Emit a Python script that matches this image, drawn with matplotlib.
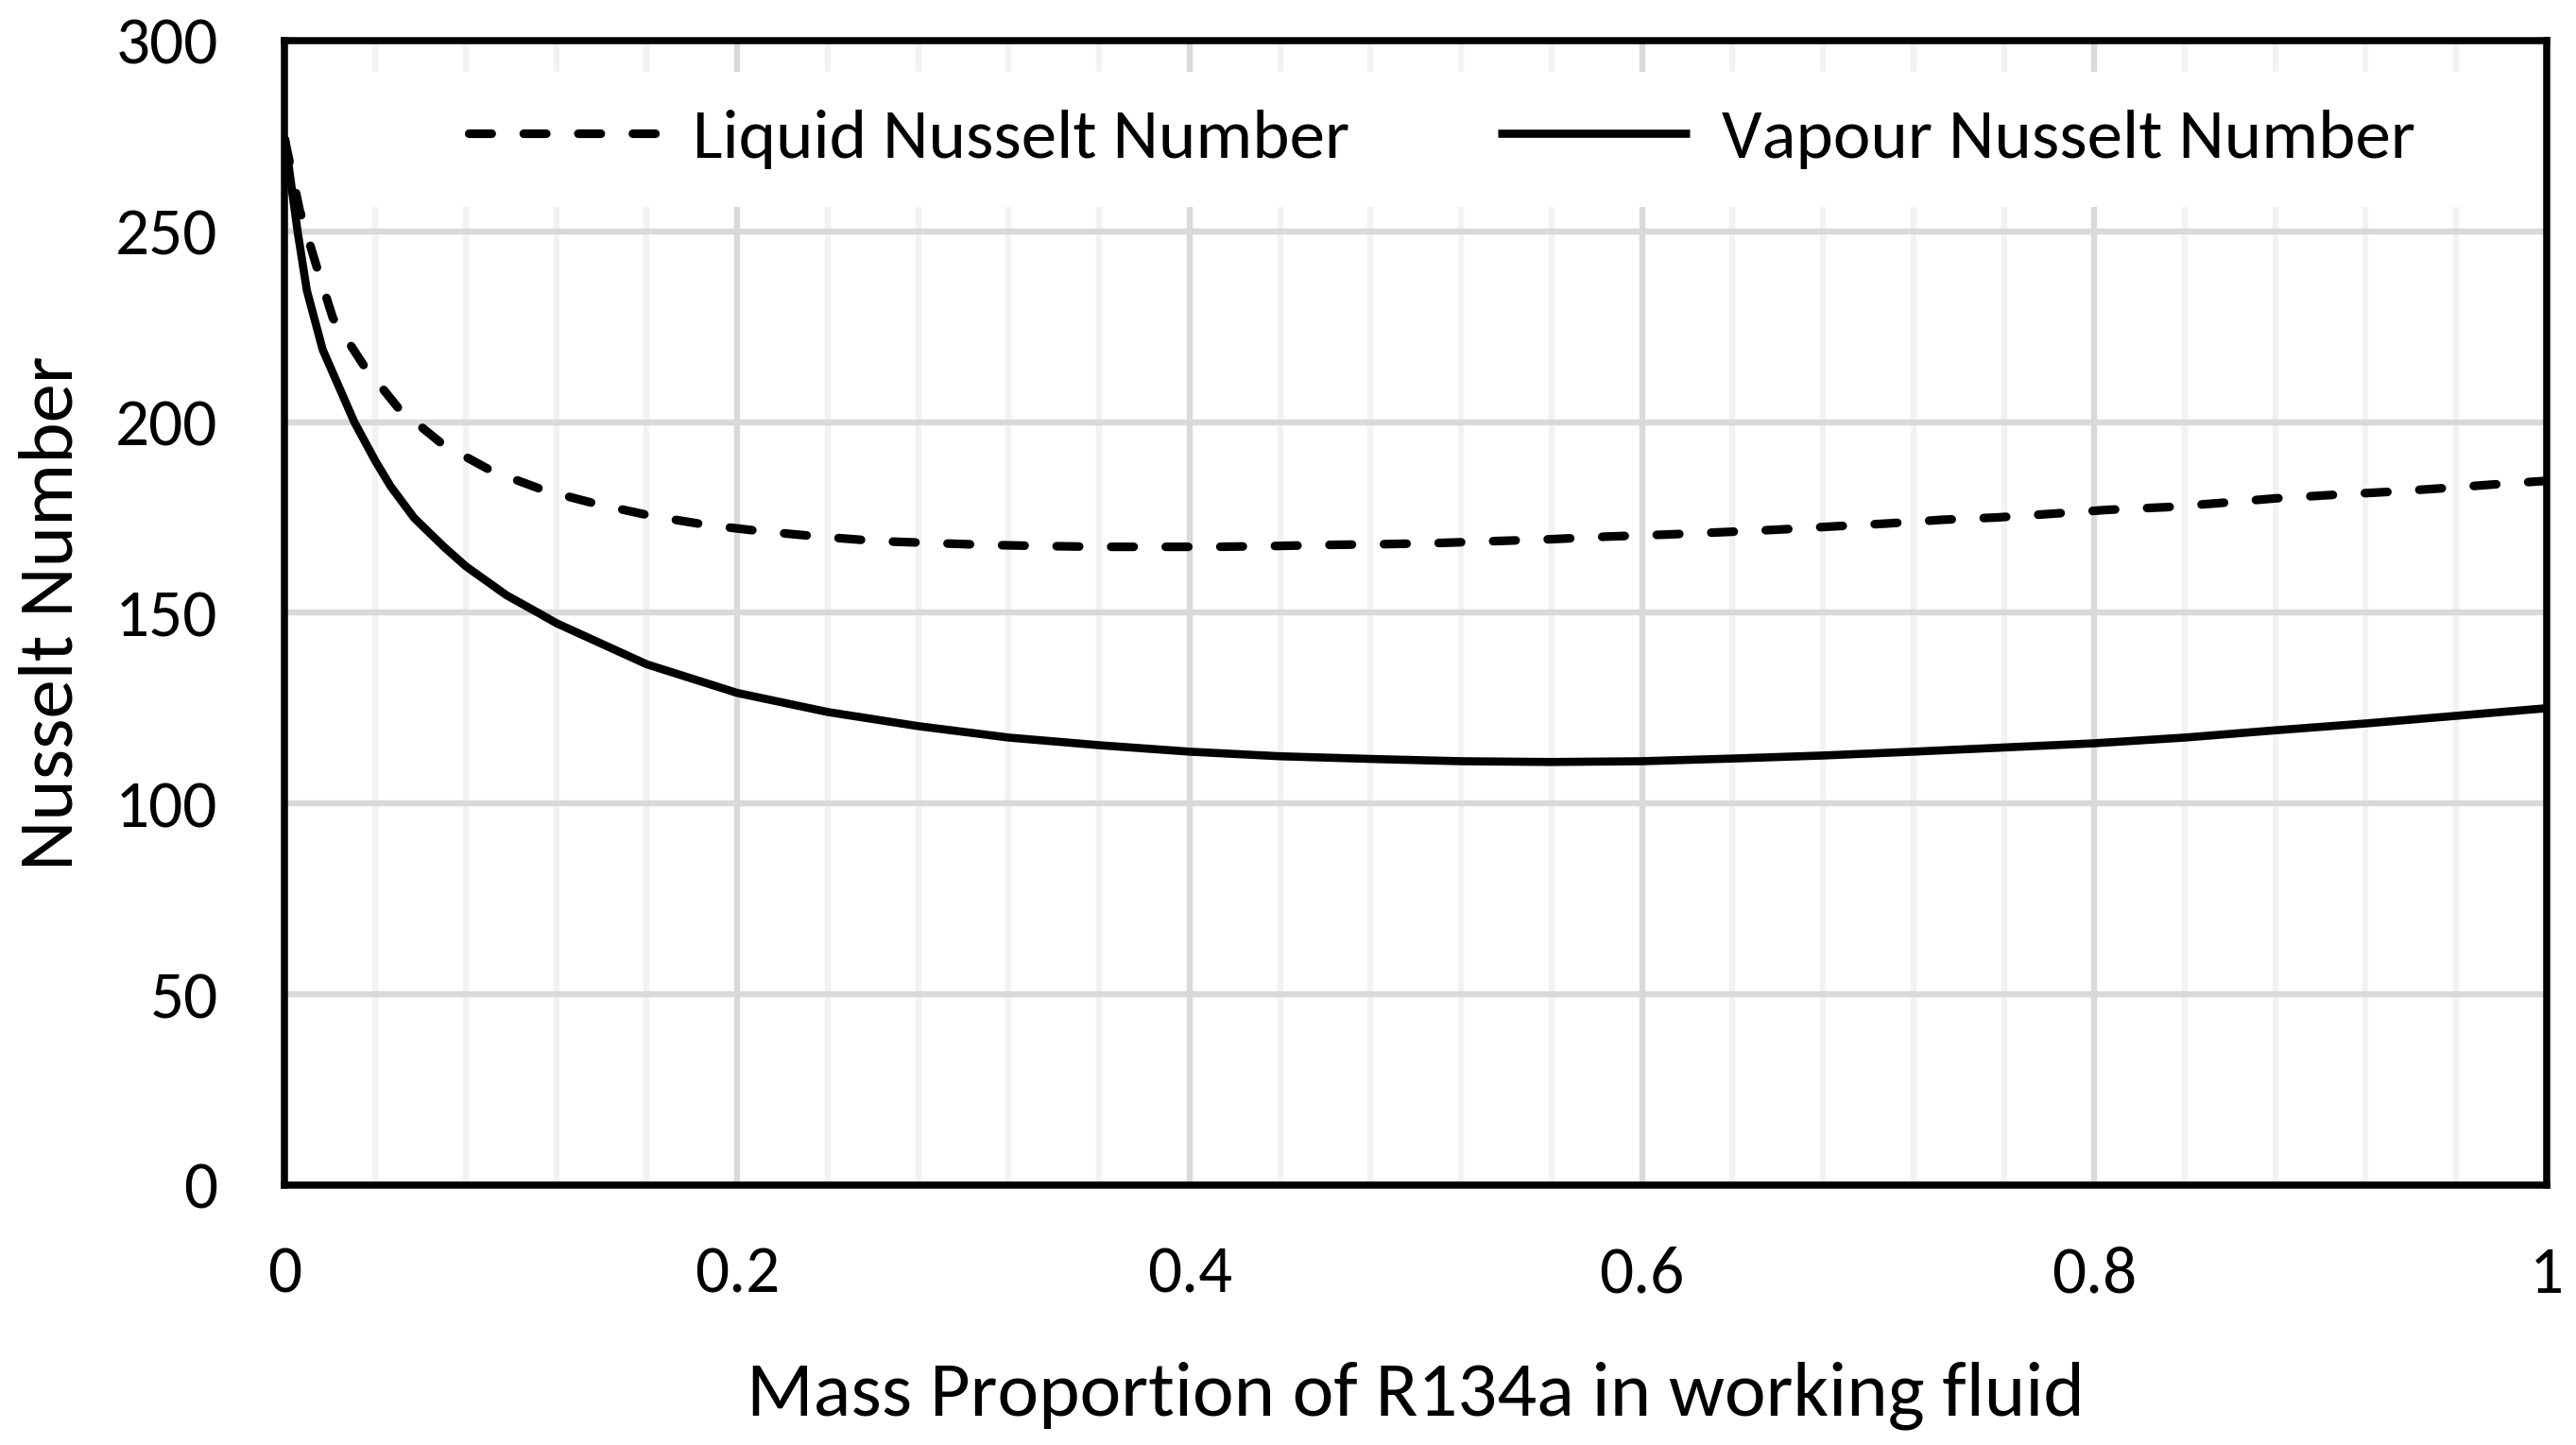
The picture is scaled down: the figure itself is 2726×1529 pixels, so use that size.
import matplotlib
matplotlib.use("Agg")
import matplotlib.pyplot as plt
from matplotlib import font_manager
from matplotlib.patches import Rectangle
from matplotlib.ticker import MultipleLocator

# ---------------- data ----------------
x_liquid = [0.0, 0.0065, 0.0137, 0.0212, 0.0347, 0.0504, 0.0697, 0.0914, 0.1147,
            0.138, 0.163, 0.187, 0.212, 0.236, 0.262, 0.286, 0.311, 0.336, 0.361,
            0.386, 0.411, 0.436, 0.461, 0.486, 0.51, 0.535, 0.56, 0.585, 0.61,
            0.634, 0.66, 0.683, 0.708, 0.733, 0.757, 0.782, 0.806, 0.832, 0.856,
            0.88, 0.905, 0.93, 0.955, 0.98, 1.0]
liquid_nu = [274.0, 255.6, 241.4, 227.3, 215.0, 203.5, 194.2, 187.2, 182.1,
             178.5, 175.3, 173.0, 171.3, 170.0, 168.8, 168.3, 167.8, 167.5, 167.3,
             167.3, 167.3, 167.5, 167.8, 168.0, 168.3, 168.8, 169.3, 170.0, 170.5,
             171.1, 171.8, 172.6, 173.4, 174.4, 175.0, 176.0, 177.0, 177.7, 178.8,
             180.0, 180.9, 181.7, 182.7, 183.8, 184.6]

x_vapour = [0.0, 0.0056, 0.0097, 0.0167, 0.0307, 0.04, 0.0467, 0.0571, 0.0703,
            0.08, 0.098, 0.112, 0.12, 0.16, 0.2, 0.24, 0.28, 0.32, 0.36, 0.4,
            0.44, 0.48, 0.52, 0.56, 0.6, 0.64, 0.68, 0.72, 0.76, 0.8, 0.84, 0.88,
            0.92, 0.96, 1.0]
vapour_nu = [274.5, 250.0, 234.5, 219.0, 200.0, 189.8, 183.2, 174.9, 167.3,
             162.2, 154.6, 150.0, 147.3, 136.5, 129.0, 124.0, 120.3, 117.3, 115.3,
             113.6, 112.4, 111.7, 111.1, 110.9, 111.1, 111.8, 112.6, 113.6, 114.7,
             115.8, 117.3, 119.2, 121.0, 123.0, 125.0]

x_ticks = [0, 0.2, 0.4, 0.6, 0.8, 1.0]
x_tick_labels = ["0", "0.2", "0.4", "0.6", "0.8", "1"]
y_ticks = [0, 50, 100, 150, 200, 250, 300]
y_tick_labels = ["0", "50", "100", "150", "200", "250", "300"]

series_labels = ["Liquid Nusselt Number", "Vapour Nusselt Number"]
x_label = "Mass Proportion of R134a in working fluid"
y_label = "Nusselt Number"

# ---------------- fonts ----------------
names = {f.name for f in font_manager.fontManager.ttflist}
if "Carlito" in names:
    fam, scale = "Carlito", 1.0
else:
    fam, scale = "Lato", 0.92
plt.rcParams["font.family"] = [fam, "DejaVu Sans"]

tick_fs = 25.6 * scale
legend_fs = 27.0 * scale
label_fs = 29.8 * scale

# ---------------- figure ----------------
fig = plt.figure(figsize=(13.63, 7.645), dpi=200)
ax = fig.add_axes([0.1106, 0.1799, 0.8780, 0.7920])

ax.set_xlim(0, 1)
ax.set_ylim(0, 300)
ax.set_xticks(x_ticks)
ax.set_xticklabels(x_tick_labels)
ax.set_yticks(y_ticks)
ax.set_yticklabels(y_tick_labels)
ax.xaxis.set_minor_locator(MultipleLocator(0.04))

ax.set_axisbelow(True)
ax.xaxis.grid(True, which="minor", color="#f2f2f2", lw=2.3)
ax.xaxis.grid(True, which="major", color="#d9d9d9", lw=2.3)
ax.yaxis.grid(True, which="major", color="#d9d9d9", lw=2.3)

ax.tick_params(axis="both", which="both", length=0)
ax.tick_params(axis="x", which="major", labelsize=tick_fs, pad=23)
ax.tick_params(axis="y", which="major", labelsize=tick_fs, pad=25.5)

for sp in ax.spines.values():
    sp.set_linewidth(2.7)
    sp.set_color("black")
    sp.set_zorder(5)

# white area behind the legend (covers gridlines)
ax.add_patch(Rectangle((0.02, 0.855), 0.96, 0.118, transform=ax.transAxes,
                       facecolor="white", edgecolor="none", zorder=1))

ax.plot(x_liquid, liquid_nu, color="black", lw=3.3, linestyle=(0, (2.6, 3.7)),
        dash_capstyle="round", label=series_labels[0], zorder=3)
ax.plot(x_vapour, vapour_nu, color="black", lw=3.1, solid_capstyle="butt",
        solid_joinstyle="round", label=series_labels[1], zorder=3)

leg = ax.legend(loc="center", bbox_to_anchor=(0.5116, 0.914), ncol=2,
                frameon=False, fontsize=legend_fs, handlelength=2.7,
                handletextpad=0.45, columnspacing=2.1, borderpad=0,
                borderaxespad=0)
leg.set_zorder(6)

ax.set_xlabel(x_label, fontsize=label_fs)
ax.xaxis.label.set_verticalalignment("center")
ax.xaxis.set_label_coords(0.5, -0.184)
ax.set_ylabel(y_label, fontsize=label_fs)
ax.yaxis.label.set_verticalalignment("center")
ax.yaxis.set_label_coords(-0.103, 0.5)

fig.savefig("out.png", dpi=200)
